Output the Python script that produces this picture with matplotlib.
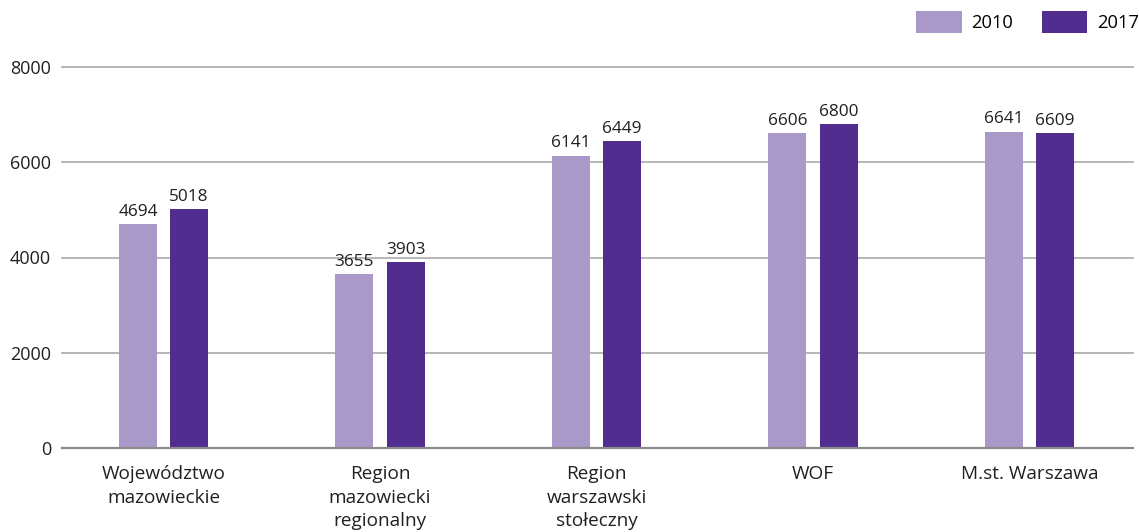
import matplotlib
matplotlib.use("Agg")
import matplotlib.pyplot as plt
import numpy as np
from matplotlib.patches import Patch

categories = ["Województwo\nmazowieckie", "Region\nmazowiecki\nregionalny",
              "Region\nwarszawski\nstołeczny", "WOF", "M.st. Warszawa"]
series_names = ["2010", "2017"]
values_2010 = [4694, 3655, 6141, 6606, 6641]
values_2017 = [5018, 3903, 6449, 6800, 6609]
yticks = [0, 2000, 4000, 6000, 8000]

c_light = "#A899C8"
c_dark = "#512D8F"
txt = "#231F20"

plt.rcParams['font.family'] = ['Open Sans', 'DejaVu Sans']

fig = plt.figure(figsize=(11.39, 5.32), dpi=100)
ax = fig.add_axes([62/1139, 84/532, (1133-62)/1139, 381/532])

x = np.arange(len(categories))
w = 0.1755
off = 0.118
b1 = ax.bar(x - off, values_2010, width=w, color=c_light, zorder=3)
b2 = ax.bar(x + off, values_2017, width=w, color=c_dark, zorder=3)

for bars, vals in ((b1, values_2010), (b2, values_2017)):
    for r, v in zip(bars, vals):
        ax.text(r.get_x() + r.get_width()/2, v + 90, f"{v}", ha="center", va="bottom",
                fontsize=12.4, color=txt)

ax.set_xlim(-0.469, 4.478)
ax.set_ylim(0, 8000)
ax.set_yticks(yticks)
ax.set_yticklabels([str(t) for t in yticks], fontsize=13, color=txt)
ax.tick_params(axis='y', length=0, pad=8)
ax.set_xticks(x)
ax.set_xticklabels(categories, fontsize=13.7, color=txt, linespacing=1.42)
ax.tick_params(axis='x', length=0, pad=12)

for t in yticks[1:]:
    ax.axhline(t, color="#B0B0B0", lw=1.3, zorder=1, clip_on=False)
ax.axhline(0, color="#8A8A8A", lw=1.6, zorder=4, clip_on=False)

for s in ax.spines.values():
    s.set_visible(False)

handles = [Patch(facecolor=c_light), Patch(facecolor=c_dark)]
fig.legend(handles, series_names, loc="upper right", bbox_to_anchor=(1138.5/1139, 1 - 11/532),
           ncol=2, frameon=False, fontsize=13.2, handlelength=2.5, handleheight=1.5,
           columnspacing=1.55, handletextpad=0.5, borderaxespad=0, borderpad=0)

fig.savefig("out.png", dpi=100)
